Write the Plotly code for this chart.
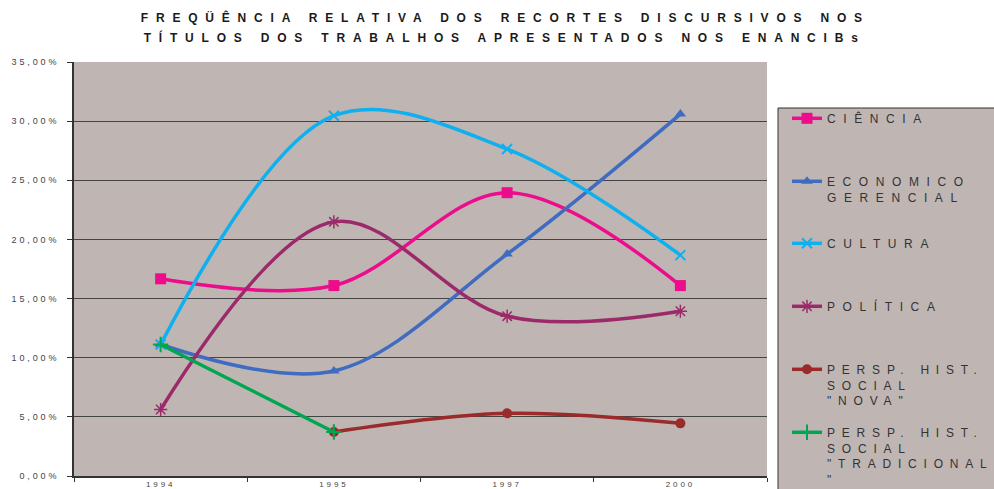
import plotly.graph_objects as go

years = ["1994", "1995", "1997", "2000"]

ciencia = [0.1667, 0.1610, 0.2395, 0.1610]
economico = [0.1112, 0.0888, 0.1876, 0.3060]
cultura = [0.1112, 0.3046, 0.2764, 0.1867]
politica = [0.0562, 0.2149, 0.1351, 0.1393]
nova_years = ["1995", "1997", "2000"]
nova = [0.0372, 0.0530, 0.0445]
trad_years = ["1994", "1995"]
tradicional = [0.1112, 0.0372]

names = [
    "CIÊNCIA",
    "ECONOMICO<br>GERENCIAL",
    "CULTURA",
    "POLÍTICA",
    "PERSP. HIST.<br>SOCIAL<br>\"NOVA\"",
    "PERSP. HIST.<br>SOCIAL<br>\"TRADICIONAL<br>\"",
]

title_lines = [
    "FREQÜÊNCIA RELATIVA DOS RECORTES DISCURSIVOS NOS",
    "TÍTULOS DOS TRABALHOS APRESENTADOS NOS ENANCIBs",
]

ytickvals = [0, 0.05, 0.10, 0.15, 0.20, 0.25, 0.30, 0.35]

BG = "#bfb6b3"

series = [
    (years, ciencia, "#ec0c8c", dict(symbol="square", size=11), "spline"),
    (years, economico, "#3f6cc0", dict(symbol="triangle-up", size=10), "spline"),
    (years, cultura, "#0fb0ef", dict(symbol="x-thin-open", size=10, line=dict(width=2, color="#0fb0ef")), "spline"),
    (years, politica, "#9c2a6a", dict(symbol="asterisk-open", size=11, line=dict(width=1.5, color="#9c2a6a")), "spline"),
    (nova_years, nova, "#9b2a2a", dict(symbol="circle", size=10), "spline"),
    (trad_years, tradicional, "#00a650", dict(symbol="cross-thin-open", size=11, line=dict(width=2, color="#00a650")), "linear"),
]

W, H = 994, 489
L, R, T, B = 74, 227, 62, 13
pw = W - L - R
ph = H - T - B


def px2x(px):
    return (px - L) / pw


def py2y(py):
    return (H - B - py) / ph


fig = go.Figure()

for i, (xs, ys, col, mk, shp) in enumerate(series):
    lg = "legend" if i == 0 else f"legend{i+1}"
    fig.add_trace(go.Scatter(
        x=xs, y=ys, name=names[i], mode="lines+markers",
        line=dict(color=col, width=3.5, shape=shp, smoothing=1.0),
        marker=dict(color=col, **mk),
        legend=lg,
    ))

entry_centers = [118, 181, 243, 306, 369, 432]
layout_legends = {}
for i, c in enumerate(entry_centers):
    key = "legend" if i == 0 else f"legend{i+1}"
    layout_legends[key] = dict(
        x=px2x(787), y=py2y(c - 14), xanchor="left", yanchor="top",
        bgcolor="rgba(0,0,0,0)", borderwidth=0, valign="top",
        font=dict(family="Arial", size=12, color="#333333"),
        itemwidth=30,
    )

annotations = []
for txt, cy in zip(title_lines, [18, 38]):
    annotations.append(dict(
        text=txt, showarrow=False, xref="paper", yref="paper",
        x=px2x(505), y=py2y(cy), xanchor="center", yanchor="middle",
        font=dict(family="Arial", size=12, color="#1a1a1a", weight="bold"),
    ))

fig.update_layout(
    width=W, height=H,
    margin=dict(l=L, r=R, t=T, b=B, autoexpand=False),
    paper_bgcolor="white",
    plot_bgcolor=BG,
    separators=",.",
    showlegend=True,
    annotations=annotations,
    xaxis=dict(
        type="category", range=[-0.5, 3.5], automargin=False,
        tickson="boundaries", ticks="outside", ticklen=4, tickcolor="#333",
        showline=True, linecolor="#333", linewidth=1.5,
        showgrid=False,
        tickfont=dict(family="Arial", size=8, color="#444"),
    ),
    yaxis=dict(
        range=[0, 0.35], tickvals=ytickvals, tickformat=".2%", automargin=False,
        ticks="outside", ticklen=5, tickcolor="#333",
        showline=True, linecolor="#333", linewidth=1.5,
        showgrid=True, gridcolor="#444", gridwidth=1,
        zeroline=False, ticklabelstandoff=6,
        tickfont=dict(family="Arial", size=9, color="#444"),
    ),
    shapes=[dict(
        type="rect", xref="paper", yref="paper", layer="below",
        x0=px2x(778), x1=px2x(1010), y0=py2y(108), y1=py2y(500),
        fillcolor=BG, line=dict(color="#333", width=1),
    )],
    **layout_legends,
)

post = """
var st = document.createElement('style');
st.textContent = 'body{margin:0 !important;padding:0 !important;}' +
  '.annotation-text{letter-spacing:7.8px;}' +
  '.legendtext, .infolayer g[class^="legend"] text, .infolayer g[class*=" legend"] text, text.legendtext tspan{letter-spacing:7.6px !important;}' +
  '.infolayer g.legend5 text, .infolayer g.legend6 text, .infolayer g.legend5 tspan, .infolayer g.legend6 tspan{letter-spacing:6.8px !important;}' +
  '.xtick text, .ytick text{letter-spacing:2.9px;}' +
  'g.scrollbox{clip-path:none !important;}';
document.head.appendChild(st);
"""

fig.write_html("out.html", post_script=post, config={"displayModeBar": False})
